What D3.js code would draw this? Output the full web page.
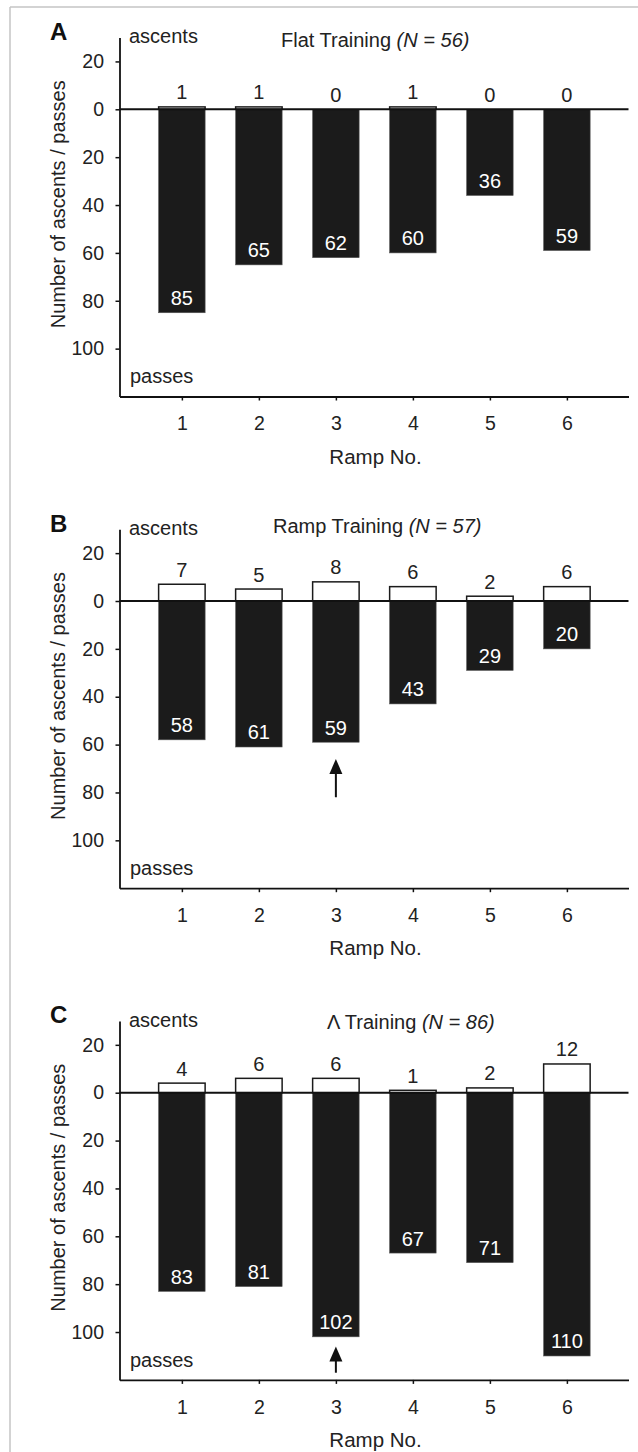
<!DOCTYPE html>
<html>
<head>
<meta charset="utf-8">
<script src="https://cdn.jsdelivr.net/npm/d3@7"></script>
<style>
  body { margin: 0; background: #fff; }
  svg { display: block; }
  text { font-family: Arial, "Liberation Sans", Helvetica, sans-serif; fill: #222; }
</style>
</head>
<body>
<svg id="chart" width="638" height="1452"></svg>
<script>
// data
const ramps = [1, 2, 3, 4, 5, 6];
const flatAscents = [1, 1, 0, 1, 0, 0];
const flatPasses = [85, 65, 62, 60, 36, 59];
const rampAscents = [7, 5, 8, 6, 2, 6];
const rampPasses = [58, 61, 59, 43, 29, 20];
const lambdaAscents = [4, 6, 6, 1, 2, 12];
const lambdaPasses = [83, 81, 102, 67, 71, 110];
const yTickValues = [20, 0, -20, -40, -60, -80, -100];
const panelLetters = ["A", "B", "C"];
const titleNames = ["Flat Training", "Ramp Training", "\u039B Training"];
const titleNs = ["(N = 56)", "(N = 57)", "(N = 86)"];
// arrow marks: ramp, start value (passes), tip value (passes)
const arrowRamps = [null, 3, 3];
const arrowFrom = [null, 82, 117];
const arrowTo = [null, 66, 106];

const ascentsAll = [flatAscents, rampAscents, lambdaAscents];
const passesAll = [flatPasses, rampPasses, lambdaPasses];

// layout
const plotTop = 37.5, plotH = 359, panelStep = 491.7;
const titleX = [281, 273, 327];
const titleDy = [-62, -68, -64];
const barW = 46.5;

const svg = d3.select("#chart");

// light frame of the original figure
svg.append("line").attr("x1", 10).attr("x2", 638).attr("y1", 7).attr("y2", 7)
    .attr("stroke", "#c4c4c4").attr("stroke-width", 1.5);
svg.append("line").attr("x1", 10).attr("x2", 10).attr("y1", 7).attr("y2", 1452)
    .attr("stroke", "#c4c4c4").attr("stroke-width", 1.5);

const x = d3.scaleLinear().domain([0.19, 6.8]).range([119.5, 628.5]);

panelLetters.forEach((letter, i) => {
    const top = plotTop + i * panelStep;
    const y = d3.scaleLinear().domain([30, -120]).range([top, top + plotH]);
    const g = svg.append("g");
    const asc = ascentsAll[i], pas = passesAll[i];

    // passes bars (black, downward)
    g.selectAll(".pass").data(ramps).enter().append("rect")
        .attr("x", d => x(d) - barW / 2)
        .attr("y", y(0))
        .attr("width", barW)
        .attr("height", (d, j) => y(-pas[j]) - y(0))
        .attr("fill", "#1b1b1b")
        .attr("stroke", "#555").attr("stroke-width", 0.6);

    // ascents bars (white, upward)
    g.selectAll(".asc").data(ramps.filter((d, j) => asc[j] > 0)).enter().append("rect")
        .attr("x", d => x(d) - barW / 2)
        .attr("y", d => y(asc[d - 1]))
        .attr("width", barW)
        .attr("height", d => y(0) - y(asc[d - 1]))
        .attr("fill", "#fff")
        .attr("stroke", "#1b1b1b").attr("stroke-width", 1.5);

    // zero line
    g.append("line")
        .attr("x1", x(0.19)).attr("x2", x(6.8))
        .attr("y1", y(0)).attr("y2", y(0))
        .attr("stroke", "#111").attr("stroke-width", 2);

    // value labels
    g.selectAll(".ascLab").data(ramps).enter().append("text")
        .attr("x", d => x(d))
        .attr("y", (d, j) => y(asc[j]) - 7.5)
        .attr("text-anchor", "middle")
        .style("font-size", "20px")
        .text((d, j) => asc[j]);
    g.selectAll(".pasLab").data(ramps).enter().append("text")
        .attr("x", d => x(d))
        .attr("y", (d, j) => y(-pas[j]) - 7.5)
        .attr("text-anchor", "middle")
        .style("font-size", "20px")
        .style("fill", "#fff")
        .text((d, j) => pas[j]);

    // axes
    const yAxis = g.append("g")
        .attr("transform", `translate(${x(0.19)},0)`)
        .call(d3.axisLeft(y).tickValues(yTickValues).tickSize(4).tickSizeOuter(0)
            .tickPadding(11.5).tickFormat(d => Math.abs(d)));
    const xAxis = g.append("g")
        .attr("transform", `translate(0,${y(-120)})`)
        .call(d3.axisBottom(x).tickValues(ramps).tickSize(4).tickSizeOuter(0)
            .tickPadding(16).tickFormat(d3.format("d")));
    [yAxis, xAxis].forEach(a => {
        a.select(".domain").attr("stroke", "#111").attr("stroke-width", 1.8);
        a.selectAll(".tick line").attr("stroke", "#111").attr("stroke-width", 1.5);
        a.selectAll(".tick text").style("font-size", "19.5px")
            .style("font-family", "Arial, 'Liberation Sans', sans-serif").attr("fill", "#222");
    });

    // corner words
    g.append("text").attr("x", 129).attr("y", y(0) - 66)
        .style("font-size", "20px").text("ascents");
    g.append("text").attr("x", 130).attr("y", y(0) + 274)
        .style("font-size", "20px").text("passes");

    // title
    const t = g.append("text").attr("x", titleX[i]).attr("y", y(0) + titleDy[i])
        .style("font-size", "20px");
    t.append("tspan").text(titleNames[i] + " ");
    t.append("tspan").style("font-style", "italic").text(titleNs[i]);

    // panel letter
    g.append("text").attr("x", 50).attr("y", y(0) - 69.3)
        .style("font-size", "24px").style("font-weight", "bold").style("fill", "#111")
        .text(letter);

    // y title
    g.append("text")
        .attr("transform", `translate(65,${y(0) + 95}) rotate(-90)`)
        .attr("text-anchor", "middle")
        .style("font-size", "20px")
        .text("Number of ascents / passes");

    // x title
    g.append("text").attr("x", 375.5).attr("y", y(-120) + 67)
        .attr("text-anchor", "middle")
        .style("font-size", "20.5px")
        .text("Ramp No.");

    // arrow
    if (arrowRamps[i] !== null) {
        const ax = x(arrowRamps[i]);
        const tip = y(-arrowTo[i]);
        g.append("line").attr("x1", ax).attr("x2", ax)
            .attr("y1", y(-arrowFrom[i])).attr("y2", tip + 10)
            .attr("stroke", "#111").attr("stroke-width", 2);
        g.append("path")
            .attr("d", `M${ax},${tip} L${ax - 6.5},${tip + 15} L${ax + 6.5},${tip + 15} Z`)
            .attr("fill", "#111");
    }
});
</script>
</body>
</html>
